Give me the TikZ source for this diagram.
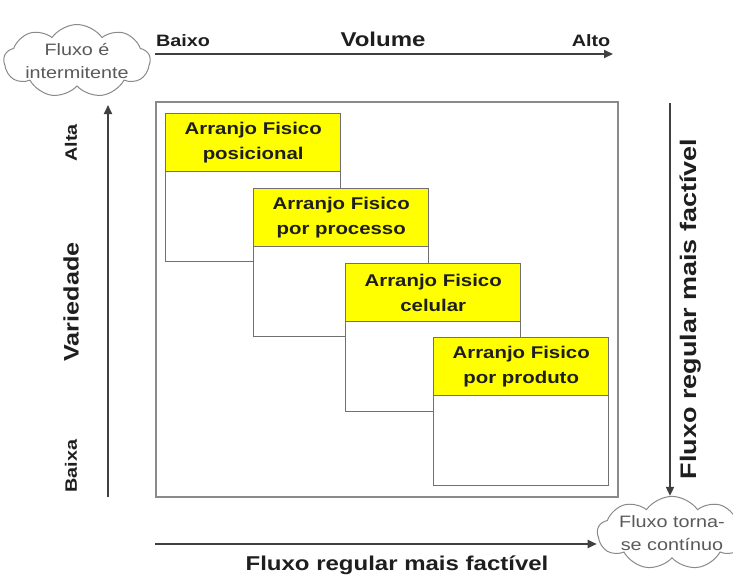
\documentclass[tikz,border=0pt]{standalone}
\usepackage{fontspec}
\setmainfont{Liberation Sans}
\newfontfamily\wf[FakeStretch=1.2]{Liberation Sans}
\usetikzlibrary{shapes.symbols,arrows.meta}
\definecolor{lin}{HTML}{404040}
\definecolor{frm}{HTML}{8A8A8A}
\definecolor{bxl}{HTML}{707070}
\definecolor{txt}{HTML}{1E1E1E}
\definecolor{cltxt}{HTML}{5A5A5A}
\definecolor{ylw}{HTML}{FFFF00}
\begin{document}
\begin{tikzpicture}[x=1pt,y=-1pt,
  arr/.style={draw=lin, line width=1.8pt, -{Triangle[length=9pt,width=8pt]}},
  frame/.style={draw=frm, line width=1.6pt, minimum width=462pt, minimum height=395pt, anchor=north west, inner sep=0pt},
  wbox/.style={draw=bxl, line width=1.4pt, fill=white, minimum width=175pt, minimum height=148pt, anchor=north west, inner sep=0pt},
  ybox/.style={draw=bxl, line width=1.4pt, fill=ylw, minimum width=175pt, minimum height=58pt, anchor=north west, inner sep=0pt, align=center, font=\wf\bfseries\fontsize{17}{25}\selectfont, text=txt},
  lbl/.style={font=\wf\bfseries\fontsize{16.5}{20}\selectfont, text=txt, inner sep=0pt},
  big/.style={font=\wf\bfseries\fontsize{20}{24}\selectfont, text=txt, inner sep=0pt},
  cl/.style={cloud, cloud puffs=9, cloud puff arc=110, cloud ignores aspect, draw=frm, line width=1pt, fill=white, align=center, font=\wf\fontsize{16.5}{23}\selectfont, text=cltxt, inner sep=0pt}]
\useasboundingbox (0,0) rectangle (733,578);

% frame
\node[frame] (fr) at (155,101) {};

% boxes
\node[wbox] (b1) at (165,113) {};
\node[ybox] (h1) at (b1.north west) {Arranjo Fisico\\posicional};
\node[wbox] (b2) at (253,188) {};
\node[ybox] (h2) at (b2.north west) {Arranjo Fisico\\por processo};
\node[wbox] (b3) at (345,263) {};
\node[ybox] (h3) at (b3.north west) {Arranjo Fisico\\celular};
\node[wbox] (b4) at (433,337) {};
\node[ybox] (h4) at (b4.north west) {Arranjo Fisico\\por produto};

% clouds
\node[cl, minimum width=128pt, minimum height=64pt] (c1) at (77,61) {Fluxo é\\intermitente};
\node[cl, minimum width=112pt, minimum height=66pt] (c2) at (672,533) {Fluxo torna-\\se contínuo};

% top axis
\coordinate (ts) at (155,54);
\coordinate (te) at (613,54);
\draw[arr] (ts) -- (te);
\node[lbl] (baixo) at (183,41) {Baixo};
\node[big] (vol) at (383,39) {Volume};
\node[lbl] (alto) at (591,41) {Alto};

% left axis
\coordinate (ls) at (108,497);
\coordinate (le) at (108,105);
\draw[arr] (ls) -- (le);
\node[lbl, rotate=90] (alta) at (71,143) {Alta};
\node[big, font=\wf\bfseries\fontsize{21}{24}\selectfont, rotate=90] (var) at (71,302) {Variedade};
\node[lbl, rotate=90] (baixa) at (71,466) {Baixa};

% right axis
\coordinate (rs) at (670,103);
\draw[arr] (rs) -- (rs |- c2.north);
\node[big, font=\wf\bfseries\fontsize{22.5}{26}\selectfont, rotate=90] (rtxt) at (691,309) {Fluxo regular mais factível};

% bottom axis
\coordinate (bs) at (155,544);
\draw[arr] (bs) -- (bs -| c2.west);
\node[big] (btxt) at (397,565) {Fluxo regular mais factível};
\end{tikzpicture}
\end{document}
